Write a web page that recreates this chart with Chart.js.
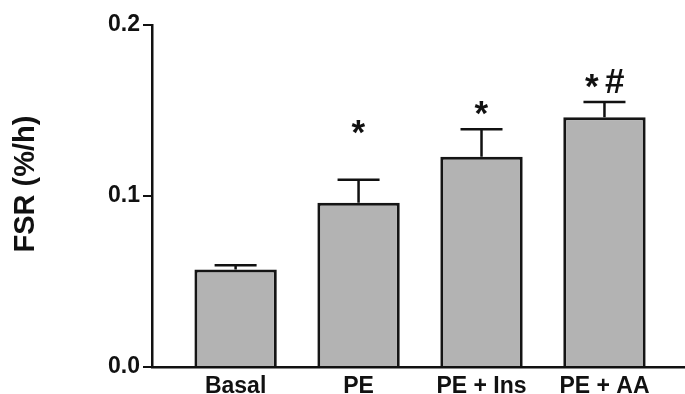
<!DOCTYPE html>
<html>
<head>
<meta charset="utf-8">
<script src="https://cdn.jsdelivr.net/npm/chart.js@4.4.0/dist/chart.umd.min.js"></script>
<style>
  html, body { margin: 0; padding: 0; background: #fff; }
  #wrap { width: 685px; height: 394px; }
</style>
</head>
<body>
<div id="wrap"><canvas id="fsrChart"></canvas></div>
<script>
const groups = ["Basal", "PE", "PE + Ins", "PE + AA"];
const fsrMeans = [0.057, 0.096, 0.123, 0.146];
const fsrErrors = [0.0025, 0.0135, 0.016, 0.009];
const sigMarks = ["", "*", "*", "*#"];
const sigMarkY = [null, 0.1405, 0.1515, 0.1675];
const yTicks = [0.0, 0.1, 0.2];
const yTitle = "FSR (%/h)";

const FONT = "'Liberation Sans', Arial, sans-serif";

// error bars (upward only), significance marks, y title
const errorBarPlugin = {
  id: "errorBars",
  afterDatasetsDraw(chart) {
    const ctx = chart.ctx;
    const xs = chart.scales.x, ys = chart.scales.y;
    ctx.save();
    ctx.strokeStyle = "#111";
    ctx.lineWidth = 2.5;
    fsrMeans.forEach((m, i) => {
      const x = xs.getPixelForValue(i);
      const y0 = ys.getPixelForValue(m);
      const y1 = ys.getPixelForValue(m + fsrErrors[i]);
      ctx.beginPath();
      ctx.moveTo(x, y0);
      ctx.lineTo(x, y1);
      ctx.moveTo(x - 21, y1);
      ctx.lineTo(x + 21, y1);
      ctx.stroke();
    });

    // marks: each glyph centred on its own ink box
    ctx.fillStyle = "#111";
    ctx.font = "bold 35px " + FONT;
    ctx.textBaseline = "alphabetic";
    ctx.textAlign = "left";
    sigMarks.forEach((txt, i) => {
      if (!txt) return;
      const cy = ys.getPixelForValue(sigMarkY[i]);
      const chars = txt.split("");
      const gap = 6;
      const ms = chars.map(c => ctx.measureText(c));
      const widths = ms.map(mt => mt.actualBoundingBoxRight + mt.actualBoundingBoxLeft);
      const total = widths.reduce((a, b) => a + b, 0) + gap * (chars.length - 1);
      let x = xs.getPixelForValue(i) - total / 2;
      chars.forEach((c, k) => {
        const mt = ms[k];
        const inkMid = (mt.actualBoundingBoxAscent - mt.actualBoundingBoxDescent) / 2;
        ctx.fillText(c, x + mt.actualBoundingBoxLeft, cy + inkMid);
        x += widths[k] + gap;
      });
    });

    // rotated y axis title
    ctx.translate(34, 184);
    ctx.rotate(-Math.PI / 2);
    ctx.font = "bold 29px " + FONT;
    ctx.textAlign = "center";
    ctx.textBaseline = "alphabetic";
    ctx.fillText(yTitle, 0, 0);
    ctx.restore();
  }
};

const ctx = document.getElementById("fsrChart").getContext("2d");
new Chart(ctx, {
  type: "bar",
  data: {
    datasets: [{
      label: "FSR",
      data: fsrMeans.map((v, i) => ({ x: i, y: v })),
      backgroundColor: "#b3b3b3",
      borderColor: "#151515",
      borderWidth: 3,
      barPercentage: 0.67,
      categoryPercentage: 1.0
    }]
  },
  options: {
    responsive: true,
    maintainAspectRatio: false,
    animation: false,
    layout: { padding: { top: 25, right: 0, left: 0, bottom: 0 } },
    plugins: {
      legend: { display: false },
      tooltip: { enabled: false }
    },
    scales: {
      x: {
        type: "linear",
        min: -0.68,
        max: 3.655,
        offset: false,
        grid: { display: false, drawTicks: false, offset: false },
        border: { display: true, color: "#111", width: 2.5 },
        afterBuildTicks: (scale) => { scale.ticks = groups.map((g, i) => ({ value: i })); },
        afterFit: (scale) => { scale.height = 27; },
        ticks: {
          autoSkip: false,
          maxRotation: 0,
          padding: 6,
          color: "#111",
          font: { family: FONT, size: 23, weight: "bold" },
          callback: (v) => groups[v]
        }
      },
      y: {
        min: 0,
        max: 0.2,
        afterBuildTicks: (scale) => { scale.ticks = yTicks.map(v => ({ value: v })); },
        afterFit: (scale) => { scale.width = 152; },
        grid: {
          drawOnChartArea: false,
          tickLength: 9,
          color: "#111",
          lineWidth: 2
        },
        border: { display: true, color: "#111", width: 2.5 },
        ticks: {
          padding: 3,
          color: "#111",
          font: { family: FONT, size: 23, weight: "bold" },
          callback: (v) => v.toFixed(1)
        }
      }
    }
  },
  plugins: [errorBarPlugin]
});
</script>
</body>
</html>
